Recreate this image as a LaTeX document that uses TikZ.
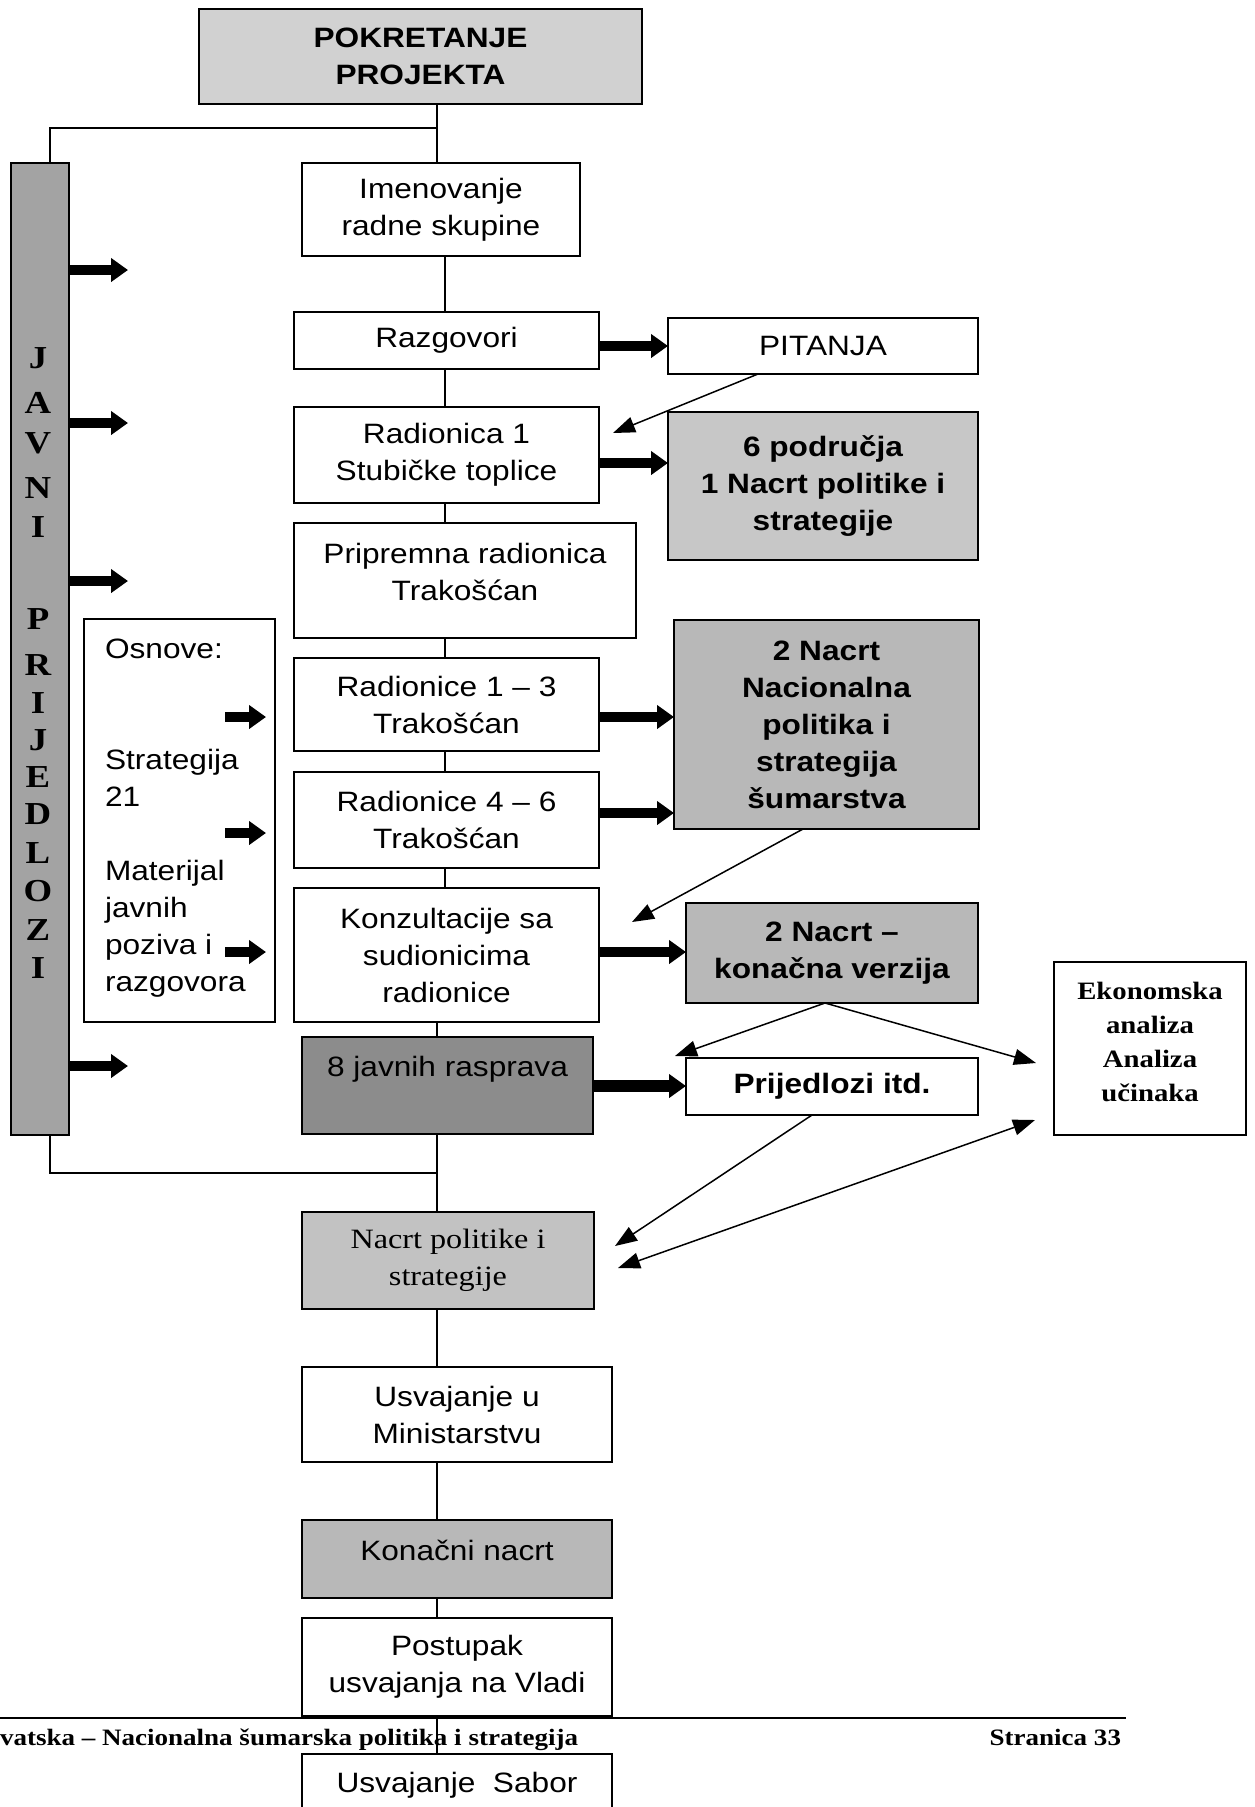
\documentclass[tikz,border=0pt]{standalone}
\usepackage{fontspec}
\setmainfont{Liberation Sans}
\newfontfamily\sansf[FakeStretch=1.13]{Liberation Sans}
\newfontfamily\serff[FakeStretch=1.15]{Liberation Serif}
\usetikzlibrary{arrows.meta,calc}
\definecolor{gpok}{gray}{0.82}
\definecolor{gbar}{gray}{0.64}
\definecolor{gpod}{gray}{0.78}
\definecolor{gndva}{gray}{0.72}
\definecolor{gkonv}{gray}{0.72}
\definecolor{gjav}{gray}{0.55}
\definecolor{gnac}{gray}{0.76}
\definecolor{gkon}{gray}{0.72}
\tikzset{
  box/.style={draw, line width=1.6pt, inner sep=0pt, outer sep=0pt, align=center,
    font=\sansf\fontsize{28}{37}\selectfont},
  boldbox/.style={box, font=\sansf\bfseries\fontsize{28}{37}\selectfont},
  txt/.style={inner sep=0pt, outer sep=0pt, align=center, font=\sansf\fontsize{28}{37}\selectfont},
  conn/.style={line width=1.5pt},
  blk/.style={line width=10pt, -{Triangle[length=17pt,width=23pt]}},
  thinarr/.style={line width=1.5pt, -{Triangle[length=22pt,width=16pt]}},
  dblarr/.style={line width=1.5pt, {Triangle[length=22pt,width=16pt]}-{Triangle[length=22pt,width=16pt]}},
  letter/.style={inner sep=0pt, font=\serff\bfseries\fontsize{32}{32}\selectfont},
  foot/.style={inner sep=0pt, outer sep=0pt, font=\serff\bfseries\fontsize{23.5}{28}\selectfont}
}
\begin{document}
\begin{tikzpicture}[x=1pt,y=-1pt]
\useasboundingbox (0,0) rectangle (1254,1807);
\clip (0,0) rectangle (1254,1807);
\fill[white] (0,0) rectangle (1254,1807);

% reference columns for the spine
\coordinate (cx) at (437,0);
\coordinate (cxb) at (445,0);
\coordinate (bx) at (50,0);
\coordinate (jt) at (437,128);
\coordinate (jb) at (437,1173);

% boxes
\node[boldbox, fill=gpok, minimum width=443, minimum height=95] (pok) at (420.5,56.5) {POKRETANJE\\PROJEKTA};
\node[box, fill=gbar, minimum width=58, minimum height=972] (bar) at (40,649) {};
\foreach \l/\y [count=\i] in {J/358,A/403,V/443,N/488,I/527,P/619,R/665,I/703,J/740,E/777,D/814,L/853,O/891,Z/930,I/968}
  \node[letter] (jp\i) at (38,\y) {\l};

\node[box, minimum width=278, minimum height=93] (imen) at (441,209.5) {Imenovanje\\radne skupine};
\node[box, minimum width=305, minimum height=57] (razg) at (446.5,340.5) {Razgovori};
\node[box, minimum width=310, minimum height=56] (pit) at (823,346) {PITANJA};
\node[box, minimum width=305, minimum height=96] (rad1) at (446.5,455) {Radionica 1\\Stubičke toplice};
\node[boldbox, fill=gpod, minimum width=310, minimum height=148] (pod) at (823,486) {6 područja\\1 Nacrt politike i\\strategije};
\node[box, minimum width=342, minimum height=115] (prip) at (465,580.5) {};
\node[txt] (pript) at (465,572) {Pripremna radionica\\Trakošćan};
\node[box, minimum width=191, minimum height=403] (osn) at (179.5,820.5) {};
\node[txt, align=left, anchor=west] (osnt) at (105,818.5) {Osnove:\\ \\ \\Strategija\\21\\ \\Materijal\\javnih\\poziva i\\razgovora};
\node[box, minimum width=305, minimum height=93] (r13) at (446.5,704.5) {Radionice 1 – 3\\Trakošćan};
\node[box, minimum width=305, minimum height=96] (r46) at (446.5,820) {Radionice 4 – 6\\Trakošćan};
\node[boldbox, fill=gndva, minimum width=305, minimum height=209] (ndva) at (826.5,724.5) {2 Nacrt\\Nacionalna\\politika i\\strategija\\šumarstva};
\node[box, minimum width=305, minimum height=134] (konz) at (446.5,955) {Konzultacije sa\\sudionicima\\radionice};
\node[boldbox, fill=gkonv, minimum width=292, minimum height=100] (konv) at (832,953) {2 Nacrt –\\konačna verzija};
\node[box, fill=gjav, minimum width=291, minimum height=97] (jav) at (447.5,1085.5) {};
\node[txt] (javt) at (447.5,1069) {8 javnih rasprava};
\node[boldbox, minimum width=292, minimum height=57] (prij) at (832,1086.5) {Prijedlozi itd.};
\node[box, minimum width=192, minimum height=173] (eko) at (1150,1048.5) {};
\node[txt, font=\serff\bfseries\fontsize{25}{34}\selectfont] (ekot) at (1150,1042) {Ekonomska\\analiza\\Analiza\\učinaka};
\node[box, fill=gnac, minimum width=292, minimum height=97, font=\serff\fontsize{28}{37}\selectfont] (nacrt) at (448,1260.5) {Nacrt politike i\\strategije};
\node[box, minimum width=310, minimum height=95] (usv) at (457,1414.5) {Usvajanje u\\Ministarstvu};
\node[box, fill=gkon, minimum width=310, minimum height=78] (kon) at (457,1559) {};
\node[txt] (kont) at (457,1550) {Konačni nacrt};
\node[box, minimum width=310, minimum height=98] (post) at (457,1667) {Postupak\\usvajanja na Vladi};
\node[box, minimum width=310, minimum height=90] (sab) at (457,1799) {};
\node[txt] (sabt) at (457,1785) {Usvajanje\ \ Sabor};

% spine
\draw[conn] (pok.south -| cx) -- (imen.north -| cx);
\draw[conn] (jt) -| (bar.north -| bx);
\draw[conn] (imen.south -| cxb) -- (razg.north -| cxb);
\draw[conn] (razg.south -| cxb) -- (rad1.north -| cxb);
\draw[conn] (rad1.south -| cxb) -- (prip.north -| cxb);
\draw[conn] (prip.south -| cxb) -- (r13.north -| cxb);
\draw[conn] (r13.south -| cxb) -- (r46.north -| cxb);
\draw[conn] (r46.south -| cxb) -- (konz.north -| cxb);
\draw[conn] (konz.south -| cx) -- (jav.north -| cx);
\draw[conn] (jav.south -| cx) -- (nacrt.north -| cx);
\draw[conn] (bar.south -| bx) |- (jb);
\draw[conn] (nacrt.south -| cx) -- (usv.north -| cx);
\draw[conn] (usv.south -| cx) -- (kon.north -| cx);
\draw[conn] (kon.south -| cx) -- (post.north -| cx);
\draw[conn] (post.south -| cx) -- (sab.north -| cx);

% block arrows to the right
\draw[blk] (razg.east |- pit.west) -- (pit.west);
\draw[blk] (rad1.east |- 0,463) -- (pod.west |- 0,463);
\draw[blk] (r13.east |- 0,717) -- (ndva.west |- 0,717);
\draw[blk] (r46.east |- 0,813) -- (ndva.west |- 0,813);
\draw[blk] (konz.east |- 0,952) -- (konv.west |- 0,952);
\draw[blk, line width=12pt] (jav.east |- 0,1086) -- (prij.west |- 0,1086);

% block arrows from the bar
\foreach \y [count=\i] in {270,423,581,1066} {
  \coordinate (be\i) at (128,\y);
  \draw[blk] (bar.east |- be\i) -- (be\i);
}
% arrows inside Osnove
\foreach \y [count=\i] in {717,833,952} {
  \coordinate (oa\i) at (225,\y);
  \coordinate (ob\i) at (266,\y);
  \draw[blk] (oa\i) -- (ob\i);
}

% thin arrows
\coordinate (t1) at (613,433);
\coordinate (t2) at (632,922);
\coordinate (t3) at (675,1056);
\coordinate (t4) at (1036,1063);
\coordinate (t5) at (615,1246);
\coordinate (t6) at (618,1268);
\coordinate (t7) at (1035,1120);
\draw[thinarr] ($(pit.south west)+(90,0)$) -- (t1);
\draw[thinarr] ($(ndva.south west)+(129,0)$) -- (t2);
\draw[thinarr] ($(konv.south west)+(139,0)$) -- (t3);
\draw[thinarr] ($(konv.south west)+(139,0)$) -- (t4);
\draw[thinarr] ($(prij.south west)+(126,0)$) -- (t5);
\draw[dblarr] (t6) -- (t7);

% footer
\draw[line width=2.5pt] (0,1718) -- (1126,1718);
\node[foot, anchor=base west] (foota) at (0,1745) {vatska – Nacionalna šumarska politika i strategija};
\node[foot, anchor=base east] (footb) at (1121,1745) {Stranica 33};
\end{tikzpicture}
\end{document}
